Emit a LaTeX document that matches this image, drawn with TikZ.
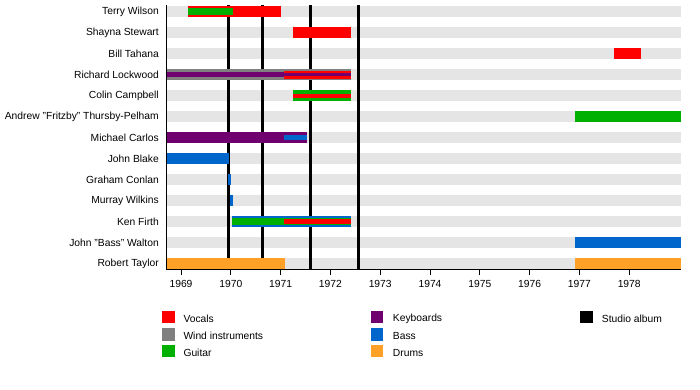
\documentclass[tikz,border=0pt]{standalone}
\usepackage{fontspec}
\setmainfont{Liberation Sans}
\definecolor{cVoc}{HTML}{FF0000}
\definecolor{cWind}{HTML}{808080}
\definecolor{cGtr}{HTML}{00B000}
\definecolor{cKey}{HTML}{700070}
\definecolor{cBass}{HTML}{0066CC}
\definecolor{cDrum}{HTML}{FFA126}
\definecolor{cBg}{HTML}{E5E5E5}
\newcommand\tlbar[5]{\fill[#5] (#1,{11.7+20.98*#3-#4}) rectangle (#2,{11.7+20.98*#3+#4});}
\tikzset{
  lbl/.style={anchor=east, font=\fontsize{10.3}{12}\selectfont, inner sep=0pt},
  yr/.style={anchor=center, font=\fontsize{10.3}{12}\selectfont, inner sep=0pt},
  legtxt/.style={anchor=west, font=\fontsize{10.3}{12}\selectfont, inner sep=0pt},
  legbox/.style={minimum width=12.5pt, minimum height=12.5pt, inner sep=0pt, draw=none},
  album/.style={line width=2.6pt, black},
  axis/.style={line width=1pt, black}
}
\begin{document}
\begin{tikzpicture}[x=1pt,y=-1pt]
\useasboundingbox (0,0) rectangle (700,389);
% background rows
\foreach \i in {0,...,12} {\tlbar{166}{681}{\i}{5.7}{cBg}}
% studio album lines
\foreach \xx in {228.5,262.5,310.5,358.5} {\draw[album] (\xx,5) -- (\xx,269);}
% Terry Wilson
\tlbar{188}{281}{0}{5.7}{cVoc}
\tlbar{188}{233}{0}{3.6}{cGtr}
% Shayna Stewart
\tlbar{293}{351}{1}{5.7}{cVoc}
% Bill Tahana
\tlbar{614}{641}{2}{5.7}{cVoc}
% Richard Lockwood
\tlbar{166}{351}{3}{5.7}{cWind}
\tlbar{166}{284}{3}{2.7}{cKey}
\tlbar{284}{351}{3}{4}{cVoc}
\tlbar{284}{351}{3}{1.4}{cKey}
% Colin Campbell
\tlbar{293}{351}{4}{5.7}{cGtr}
\tlbar{293}{351}{4}{2}{cVoc}
% Andrew
\tlbar{575}{681}{5}{5.7}{cGtr}
% Michael Carlos
\tlbar{166}{307}{6}{5.7}{cKey}
\tlbar{284}{307}{6}{2.3}{cBass}
% John Blake
\tlbar{166}{229}{7}{5.7}{cBass}
% Graham Conlan
\tlbar{228}{231}{8}{5.7}{cBass}
% Murray Wilkins
\tlbar{230}{233}{9}{5.7}{cBass}
% Ken Firth
\tlbar{232}{351}{10}{5.7}{cBass}
\tlbar{232}{351}{10}{3.4}{cGtr}
\tlbar{284}{351}{10}{2.6}{cVoc}
% John "Bass" Walton
\tlbar{575}{681}{11}{5.7}{cBass}
% Robert Taylor
\tlbar{166}{285}{12}{5.7}{cDrum}
\tlbar{575}{681}{12}{5.7}{cDrum}
% axes
\coordinate (axtop) at (166,5);
\coordinate (axorig) at (166,269.5);
\coordinate (axend) at (681,269.5);
\draw[axis] (axtop) -- (axorig) -- (axend);
% names
\node[lbl] (n0) at (159,{11.7+20.98*0}) {Terry Wilson};
\node[lbl] (n1) at (159,{11.7+20.98*1}) {Shayna Stewart};
\node[lbl] (n2) at (159,{11.7+20.98*2}) {Bill Tahana};
\node[lbl] (n3) at (159,{11.7+20.98*3}) {Richard Lockwood};
\node[lbl] (n4) at (159,{11.7+20.98*4}) {Colin Campbell};
\node[lbl] (n5) at (159,{11.7+20.98*5}) {Andrew "Fritzby" Thursby-Pelham};
\node[lbl] (n6) at (159,{11.7+20.98*6}) {Michael Carlos};
\node[lbl] (n7) at (159,{11.7+20.98*7}) {John Blake};
\node[lbl] (n8) at (159,{11.7+20.98*8}) {Graham Conlan};
\node[lbl] (n9) at (159,{11.7+20.98*9}) {Murray Wilkins};
\node[lbl] (n10) at (159,{11.7+20.98*10}) {Ken Firth};
\node[lbl] (n11) at (159,{11.7+20.98*11}) {John "Bass" Walton};
\node[lbl] (n12) at (159,{11.7+20.98*12}) {Robert Taylor};
% years
\foreach \k in {0,...,9} {
  \pgfmathsetmacro\xx{181+49.8*\k}
  \pgfmathtruncatemacro\yy{1969+\k}
  \draw[line width=0.8pt] (\xx,269.5) -- (\xx,275);
  \node[yr] (y\yy) at (\xx,284) {\yy};
}
% legend
\node[legbox, fill=cVoc] (lv) at (168.3,317) {};
\node[legtxt] (tv) at (183.3,319) {Vocals};
\node[legbox, fill=cWind] (lw) at (168.3,334.5) {};
\node[legtxt] (tw) at (183.3,336) {Wind instruments};
\node[legbox, fill=cGtr] (lg) at (168.3,351) {};
\node[legtxt] (tg) at (183.3,353) {Guitar};
\node[legbox, fill=cKey] (lk) at (377,317) {};
\node[legtxt] (tk) at (392.7,319) {Keyboards};
\node[legbox, fill=cBass] (lb) at (377,334.5) {};
\node[legtxt] (tb) at (392.7,336) {Bass};
\node[legbox, fill=cDrum] (ld) at (377,351) {};
\node[legtxt] (td) at (392.7,353) {Drums};
\node[legbox, fill=black] (ls) at (586.3,317) {};
\node[legtxt] (ts) at (601.7,319) {Studio album};
\end{tikzpicture}
\end{document}
